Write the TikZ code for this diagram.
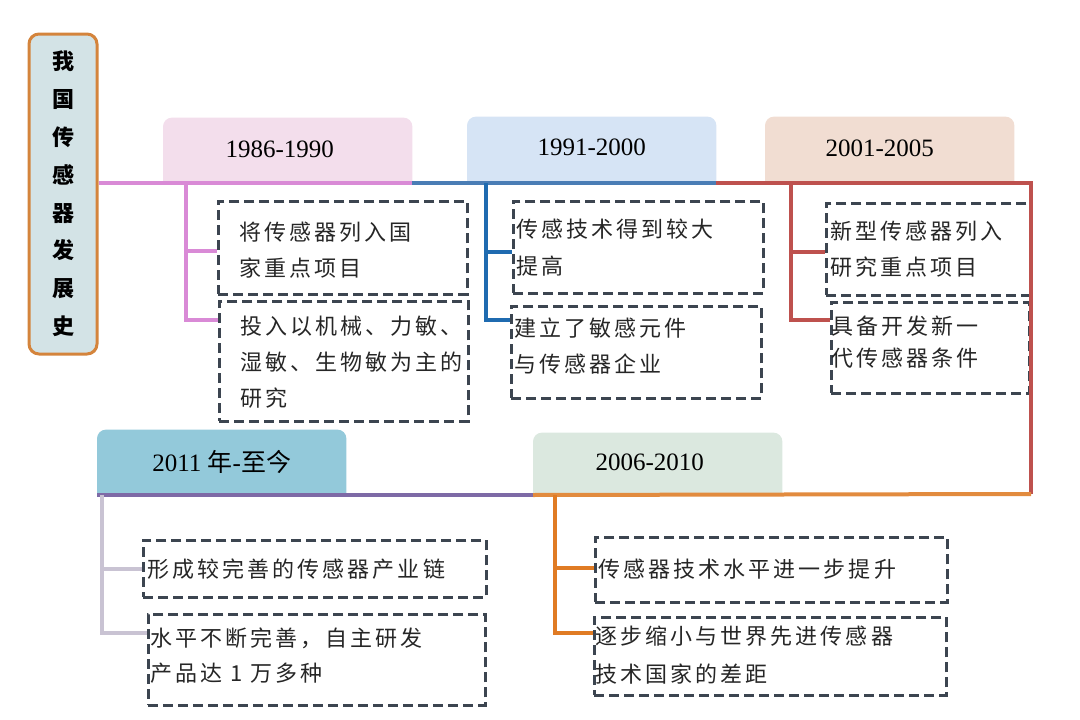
\documentclass[tikz,border=0pt]{standalone}
\usepackage{fontspec}
\setmainfont{Liberation Serif}
\newfontfamily\cjk[LetterSpace=14]{Noto Sans CJK SC}
\newfontfamily\cjkh{Noto Sans CJK SC}
\usetikzlibrary{calc}
\pgfdeclarelayer{bg}
\pgfsetlayers{bg,main}
\definecolor{pinkfill}{HTML}{F3DEEC}
\definecolor{pinkline}{HTML}{D98AD6}
\definecolor{bluefill}{HTML}{D6E4F5}
\definecolor{blueline}{HTML}{4A7DB5}
\definecolor{bluebr}{HTML}{1F6BB0}
\definecolor{peachfill}{HTML}{F1DDD2}
\definecolor{redline}{HTML}{BE514E}
\definecolor{tealfill}{HTML}{93C9DA}
\definecolor{purpline}{HTML}{7E6AA6}
\definecolor{graybr}{HTML}{C9C3D3}
\definecolor{greenfill}{HTML}{DBE8DF}
\definecolor{orangeline}{HTML}{E28B3E}
\definecolor{orangebr}{HTML}{E07B24}
\definecolor{boxline}{HTML}{3C4550}
\definecolor{titlefill}{HTML}{D3E3E6}
\definecolor{titleline}{HTML}{D4843C}
\begin{document}
\begin{tikzpicture}[x=1pt,y=-1pt,
  dbox/.style={draw=boxline, line width=2.6pt, dash pattern=on 10pt off 5pt, inner sep=0pt, anchor=north west},
  txt/.style={anchor=west, align=left, inner sep=0pt, font=\cjk\fontsize{22}{36}\selectfont, text=black!85},
  hdr/.style={anchor=south west, inner sep=0pt, minimum height=65pt, minimum width=249pt, font=\fontsize{25}{28}\selectfont, text=black},
  mainln/.style={line width=4pt},
  brln/.style={line width=4pt}
]
\useasboundingbox (0,0) rectangle (1080,720);

% title
\node[draw=titleline, fill=titlefill, line width=3pt, rounded corners=10pt,
  minimum width=68pt, minimum height=320pt, inner sep=0pt, align=center,
  font=\cjkh\bfseries\fontsize{22}{37.8}\selectfont] (t) at (63,194)
  {我\\国\\传\\感\\器\\发\\展\\史};

% headers
\node[hdr] (h1) at (163,183) {\hspace*{-16pt}\raisebox{3pt}{1986-1990}};
\node[hdr] (h2) at (467,182) {\raisebox{4pt}{1991-2000}};
\node[hdr] (h3) at (765,182) {\hspace*{-20pt}\raisebox{3pt}{2001-2005}};
\node[hdr] (h4) at (97,495) {\raisebox{3pt}{2011 {\cjkh 年}-{\cjkh 至今}}};
\node[hdr, minimum height=62pt] (h5) at (533,495) {\hspace*{-16pt}\raisebox{3pt}{2006-2010}};
\begin{pgfonlayer}{bg}
\foreach \h/\c in {h1/pinkfill,h2/bluefill,h3/peachfill,h4/tealfill,h5/greenfill}{
  \fill[\c] (\h.south west) [rounded corners=9pt] -- (\h.north west) -- (\h.north east) [sharp corners] -- (\h.south east) -- cycle;
}
\end{pgfonlayer}

% boxes
\node[dbox, minimum width=249pt, minimum height=93pt] (p1) at (217,200) {};
\node[dbox, minimum width=249pt, minimum height=120pt] (p2) at (218,300) {};
\node[dbox, minimum width=250pt, minimum height=92pt] (b1) at (512,200) {};
\node[dbox, minimum width=250pt, minimum height=92pt] (b2) at (510,305) {};
\node[dbox, minimum width=204pt, minimum height=92pt] (r1) at (825,202) {};
\node[dbox, minimum width=198pt, minimum height=91pt] (r2) at (830,301) {};
\node[dbox, minimum width=343pt, minimum height=57pt] (g1) at (142,539) {};
\node[dbox, minimum width=337pt, minimum height=91pt] (g2) at (147,613) {};
\node[dbox, minimum width=352pt, minimum height=65pt] (o1) at (594,536) {};
\node[dbox, minimum width=352pt, minimum height=78pt] (o2) at (593,616) {};

\node[txt] (tp1) at ($(p1.west)+(22,2)$) {将传感器列入国\\家重点项目};
\node[txt] (tp2) at ($(p2.west)+(22,1)$) {投入以机械、力敏、\\湿敏、生物敏为主的\\研究};
\node[txt, font=\cjk\fontsize{22}{37}\selectfont] (tb1) at ($(b1.west)+(4,0)$) {传感技术得到较大\\提高};
\node[txt] (tb2) at ($(b2.west)+(4,-6)$) {建立了敏感元件\\与传感器企业};
\node[txt] (tr1) at ($(r1.west)+(5,0)$) {新型传感器列入\\研究重点项目};
\node[txt, font=\cjk\fontsize{22}{32}\selectfont] (tr2) at ($(r2.west)+(1,-6)$) {具备开发新一\\代传感器条件};
\node[txt] (tg1) at ($(g1.west)+(5,0)$) {形成较完善的传感器产业链};
\node[txt, font=\cjk\fontsize{22}{35}\selectfont] (tg2) at ($(g2.west)+(3,-4)$) {水平不断完善，自主研发\\产品达 1 万多种};
\node[txt] (to1) at ($(o1.west)+(4,-1)$) {传感器技术水平进一步提升};
\node[txt, font=\cjk\fontsize{22}{38}\selectfont] (to2) at ($(o2.west)+(2,-1)$) {逐步缩小与世界先进传感器\\技术国家的差距};

% main lines
\coordinate (rc) at (1031,183);
\coordinate (rb) at (1031,494);
\draw[mainln, pinkline] (t.east |- h1.south) -- (h1.south east);
\draw[mainln, blueline] (h1.south east) -- (h2.south east |- h1.south);
\draw[mainln, redline, line join=miter] (h2.south east |- h1.south) -- (rc) -- (rb);
\draw[mainln, orangeline] (rb) -- (h5.south west);
\draw[mainln, purpline] (h5.south west) -- (h4.south west);

% branches
\coordinate (jp) at (186,183);
\coordinate (jb) at (486,183);
\coordinate (jr) at (791,183);
\coordinate (jg) at (102,495);
\coordinate (jo) at (555,495);
\draw[brln, pinkline] (jp) |- ($(p1.west)+(0,3)$);
\draw[brln, pinkline] (jp) |- ($(p2.north west)+(0,20)$);
\draw[brln, bluebr] (jb) |- ($(b1.west)+(0,5)$);
\draw[brln, bluebr] (jb) |- ($(b2.north west)+(0,15)$);
\draw[brln, redline] (jr) |- ($(r1.west)+(0,3)$);
\draw[brln, redline] (jr) |- ($(r2.north west)+(0,19)$);
\draw[brln, graybr] (jg) |- (g1.west);
\draw[brln, graybr] (jg) |- ($(g2.north west)+(0,20)$);
\draw[brln, orangebr] (jo) |- ($(o1.west)+(0,-2)$);
\draw[brln, orangebr] (jo) |- ($(o2.north west)+(0,17)$);
\end{tikzpicture}
\end{document}
